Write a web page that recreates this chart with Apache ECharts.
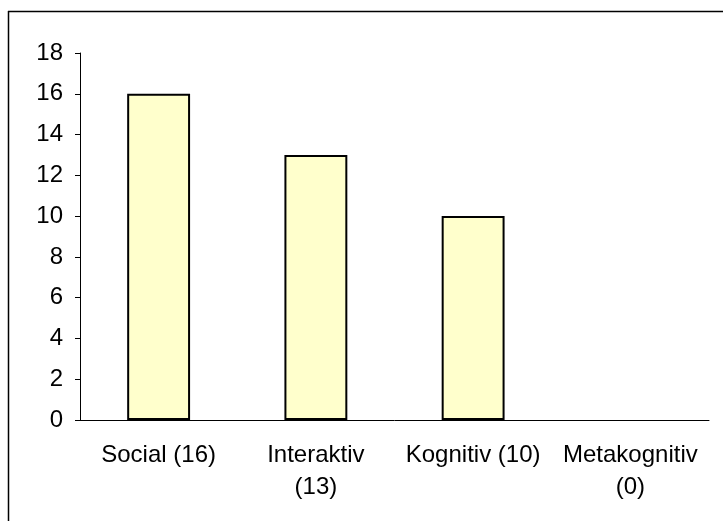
<!DOCTYPE html>
<html>
<head>
<meta charset="utf-8">
<script src="https://cdn.jsdelivr.net/npm/echarts@6/dist/echarts.min.js"></script>
<style>
  html, body { margin: 0; padding: 0; background: #fff; }
  #chart { width: 723px; height: 521px; }
</style>
</head>
<body>
<div id="chart"></div>
<script>
const categories = ["Social (16)", "Interaktiv\n(13)", "Kognitiv (10)", "Metakognitiv\n(0)"];
const counts = [16, 13, 10, 0];
const yTicks = { min: 0, max: 18, step: 2 };

const chart = echarts.init(document.getElementById("chart"));
const font = "'Liberation Sans', Arial, sans-serif";

// a zero bar gets no outline, like the original
const barData = counts.map(function (v) {
  return v === 0 ? { value: v, itemStyle: { borderWidth: 0 } } : v;
});

chart.setOption({
  animation: false,
  backgroundColor: "#ffffff",
  grid: { left: 80, right: 14, top: 53, bottom: 101, containLabel: false },
  xAxis: {
    type: "category",
    data: categories,
    axisLine: { lineStyle: { color: "#000", width: 1 } },
    axisTick: { length: 7, lineStyle: { color: "#000" } },
    axisLabel: {
      color: "#000",
      fontFamily: font,
      fontSize: 24,
      lineHeight: 32,
      margin: 19,
      interval: 0
    }
  },
  yAxis: {
    type: "value",
    min: yTicks.min,
    max: yTicks.max,
    interval: yTicks.step,
    splitLine: { show: false },
    axisLine: { show: true, lineStyle: { color: "#000", width: 1 } },
    axisTick: { show: true, length: 5, lineStyle: { color: "#000" } },
    axisLabel: { color: "#000", fontFamily: font, fontSize: 24, margin: 17 }
  },
  series: [
    {
      type: "bar",
      data: barData,
      barWidth: "40%",
      itemStyle: { color: "#FFFFCC", borderColor: "#000", borderWidth: 2 }
    }
  ],
  graphic: [
    { type: "line", shape: { x1: 8, y1: 11.5, x2: 723, y2: 11.5 }, style: { stroke: "#000", lineWidth: 1.5 } },
    { type: "line", shape: { x1: 8.5, y1: 11, x2: 8.5, y2: 521 }, style: { stroke: "#000", lineWidth: 1.5 } }
  ]
});
</script>
</body>
</html>
